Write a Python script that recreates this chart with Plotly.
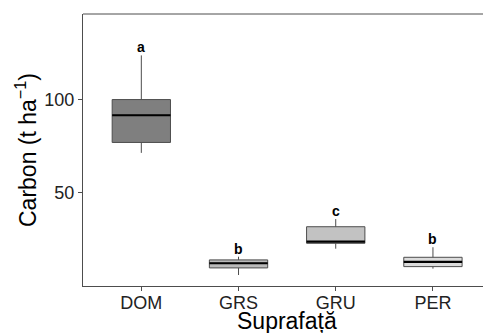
import plotly.graph_objects as go

categories = ["DOM", "GRS", "GRU", "PER"]
lower = [71.4, 5.9, 20.0, 9.3]
q1 = [77.0, 9.7, 22.9, 10.4]
median = [91.6, 12.2, 23.8, 12.9]
q3 = [100.0, 14.0, 31.8, 15.4]
upper = [123.7, 15.7, 35.9, 20.8]
letters = ["a", "b", "c", "b"]
fills = ["#7f7f7f", "#bababa", "#c2c2c2", "#dcdcdc"]

FONT = "Liberation Sans, Arial, sans-serif"
fig = go.Figure()

for i, c in enumerate(categories):
    fig.add_trace(go.Box(
        x=[i], q1=[q1[i]], median=[median[i]], q3=[q3[i]],
        lowerfence=[lower[i]], upperfence=[upper[i]],
        width=0.6, whiskerwidth=0, fillcolor=fills[i],
        line=dict(color="#4d4d4d", width=1), boxpoints=False,
        hoverinfo="skip", showlegend=False,
    ))
    # median line drawn as a flat box
    fig.add_trace(go.Box(
        x=[i], q1=[median[i]], median=[median[i]], q3=[median[i]],
        lowerfence=[median[i]], upperfence=[median[i]],
        width=0.6, whiskerwidth=0, fillcolor="rgba(0,0,0,0)",
        line=dict(color="#000000", width=2.2), boxpoints=False,
        hoverinfo="skip", showlegend=False,
    ))
    fig.add_annotation(
        x=i, y=upper[i], text="<b>%s</b>" % letters[i], showarrow=False,
        xref="x", yref="y", yanchor="bottom", yshift=-2,
        font=dict(family=FONT, size=14, color="#000000"),
    )

fig.add_shape(type="line", xref="paper", yref="paper", x0=0, x1=1, y0=1, y1=1,
              line=dict(color="#4d4d4d", width=1))

# axis titles
fig.add_annotation(
    text="Suprafață", xref="paper", yref="paper", x=(287 - 83) / 400, y=0,
    yanchor="middle", yshift=-(321 - 286), showarrow=False,
    font=dict(family=FONT, size=23, color="#000000"),
)
fig.add_annotation(
    text="Carbon (t ha<sup>−1</sup>)", xref="paper", yref="paper", x=0, y=0.5,
    xanchor="center", xshift=-(83 - 26), textangle=-90, showarrow=False,
    font=dict(family=FONT, size=23, color="#000000"),
)

fig.update_layout(
    width=483, height=333,
    margin=dict(l=83, r=0, t=14, b=47),
    paper_bgcolor="white", plot_bgcolor="white",
    boxmode="overlay",
    font=dict(family=FONT),
    xaxis=dict(
        range=[-0.6, 3.515], tickmode="array", tickvals=list(range(len(categories))),
        ticktext=categories, showgrid=False, zeroline=False, automargin=False,
        showline=True, linecolor="#4d4d4d", linewidth=1,
        ticks="outside", ticklen=4, tickcolor="#4d4d4d", ticklabelstandoff=-4,
        tickfont=dict(family=FONT, size=18, color="#222222"),
    ),
    yaxis=dict(
        range=[0, 145.9], tickvals=[50, 100], showgrid=False, zeroline=False, automargin=False,
        showline=True, linecolor="#4d4d4d", linewidth=1,
        ticks="outside", ticklen=4, tickcolor="#4d4d4d",
        tickfont=dict(family=FONT, size=18, color="#222222"),
    ),
)

fig.write_html("out.html", config={"displayModeBar": False},
               post_script="document.body.style.margin='0';document.body.style.overflow='hidden';")
